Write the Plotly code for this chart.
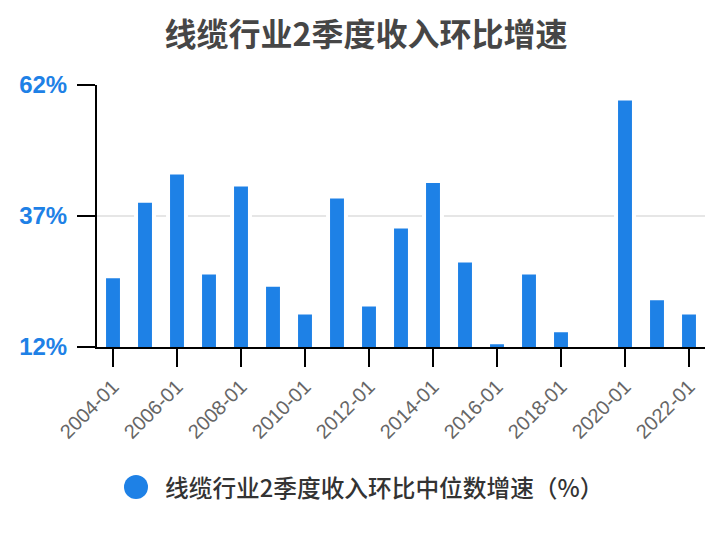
import plotly.graph_objects as go

years = [str(y) + "-01" for y in range(2004, 2023)]
values = [25.5, 39.9, 45.3, 26.2, 43.0, 23.9, 18.6, 40.7, 20.1, 35.0,
          43.7, 28.5, 12.9, 26.2, 15.2, None, 59.4, 21.3, 18.6]
tick_labels = [y for i, y in enumerate(years) if i % 2 == 0]
y_ticks = [12, 37, 62]
series_name = "线缆行业2季度收入环比中位数增速（%）"
title_text = "线缆行业2季度收入环比增速"
blue = "#1E81E6"

# page body has an 8px margin; figure sized to fill the rest of the window
W, H = 716, 532
L, R, T, B = 89, 19, 77, 193
pw, ph = W - L - R, H - T - B

fig = go.Figure()
fig.add_trace(go.Bar(
    x=years, y=values, name=series_name, showlegend=False,
    marker=dict(color=blue, line=dict(color="white", width=4)),
    width=0.56,
))

# legend (circle marker + label)
cx, cy, r = 128, 479, 12
fig.add_shape(type="circle", xref="paper", yref="paper",
              x0=(cx - r - L) / pw, x1=(cx + r - L) / pw,
              y0=(H - B - cy - r) / ph, y1=(H - B - cy + r) / ph,
              fillcolor=blue, line=dict(width=0))
fig.add_annotation(text=series_name, xref="paper", yref="paper",
                   x=(155 - L) / pw, y=(H - B - cy) / ph,
                   xanchor="left", yanchor="middle", showarrow=False,
                   font=dict(family="Noto Sans CJK SC", size=23.7, color="#333333",
                             weight=500))

fig.update_layout(
    width=W, height=H,
    margin=dict(l=L, r=R, t=T, b=B, autoexpand=False),
    paper_bgcolor="white", plot_bgcolor="white",
    title=dict(text="<b>" + title_text + "</b>", x=0.5, xanchor="center",
               y=1 - 27 / H, yanchor="middle",
               font=dict(family="Noto Sans CJK SC", size=32, color="#464646")),
    font=dict(family="Liberation Sans"),
    showlegend=False,
)
fig.update_xaxes(
    type="category", tickmode="array", tickvals=tick_labels, ticktext=tick_labels,
    range=[-0.5, len(years) - 0.5],
    showline=True, linecolor="black", linewidth=2,
    ticks="outside", ticklen=18, tickwidth=2, tickcolor="black",
    tickangle=-45, tickfont=dict(family="Liberation Sans", size=20, color="#666666"),
    showgrid=False, automargin=False,
)
fig.update_yaxes(
    range=[12, 62], tickmode="array", tickvals=y_ticks,
    ticktext=["<b>%d%%</b>" % v for v in y_ticks],
    showline=True, linecolor="black", linewidth=2,
    ticks="outside", ticklen=18, tickwidth=2, tickcolor="black",
    ticklabelstandoff=5,
    tickfont=dict(family="Liberation Sans", size=24, color=blue),
    showgrid=True, gridcolor="#E6E6E6", gridwidth=2,
    zeroline=False, automargin=False,
)
fig.write_html("out.html")
